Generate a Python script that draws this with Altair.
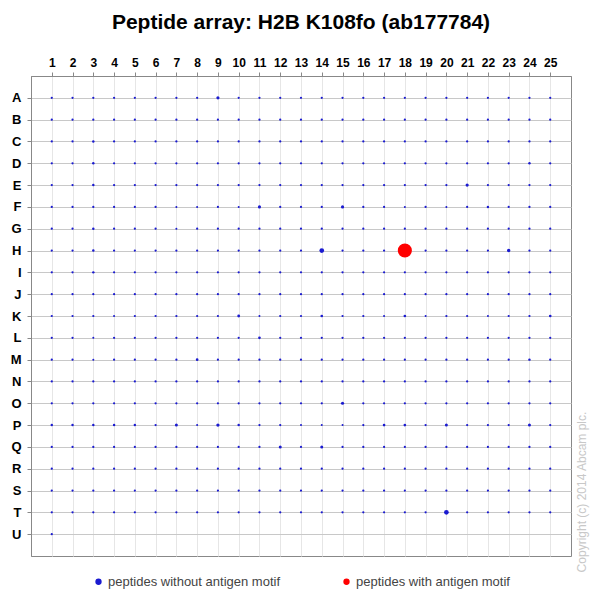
import altair as alt
import pandas as pd

title_text = "Peptide array: H2B K108fo (ab177784)"
copyright_text = "Copyright (c) 2014 Abcam plc."

columns = list(range(1, 26))
rows = list("ABCDEFGHIJKLMNOPQRSTU")

# signal intensity per spot (percent of strongest spot), rows A..T, columns 1..25
signal = {
    "A": [2.5, 2.5, 2.5, 2.5, 2.5, 2.5, 2.5, 2.5, 5, 2.5, 2.5, 2.5, 2.5, 2.5, 2.5, 2.5, 2.5, 2.5, 2.5, 2.5, 2.5, 2.5, 2.5, 2.5, 2.5],
    "B": [2.5, 2.5, 2.5, 2.5, 2.5, 2.5, 2.5, 2.5, 2.5, 2.5, 2.5, 2.5, 2.5, 2.5, 2.5, 2.5, 2.5, 2.5, 2.5, 2.5, 2.5, 2.5, 2.5, 2.5, 2.5],
    "C": [2.5, 2.5, 3, 2.5, 2.5, 2.5, 2.5, 2.5, 2.5, 2.5, 2.5, 2.5, 2.5, 2.5, 2.5, 2.5, 2.5, 2.5, 2.5, 2.5, 2.5, 2.5, 2.5, 2.5, 2.5],
    "D": [2.5, 2.5, 3, 2.5, 2.5, 2.5, 2.5, 2.5, 2.5, 2.5, 2.5, 2.5, 2.5, 2.5, 2.5, 2.5, 2.5, 2.5, 2.5, 2.5, 2.5, 2.5, 2.5, 3, 2.5],
    "E": [2.5, 2.5, 3, 2.5, 2.5, 2.5, 2.5, 2.5, 2.5, 2.5, 2.5, 2.5, 2.5, 2.5, 2.5, 2.5, 2.5, 2.5, 2.5, 2.5, 5, 2.5, 2.5, 2.5, 2.5],
    "F": [2.5, 2.5, 2.5, 2.5, 2.5, 2.5, 2, 2, 2.5, 2, 5, 2.5, 2.5, 2.5, 5, 2.5, 2.5, 2, 2.5, 2, 2.5, 3, 2.5, 2.5, 2.5],
    "G": [2.5, 2.5, 3, 2.5, 2.5, 2.5, 2, 2.5, 2.5, 2.5, 2.5, 2.5, 2.5, 2.5, 2.5, 2.5, 2.5, 2.5, 2.5, 2.5, 2.5, 2.5, 2.5, 2.5, 2.5],
    "H": [2.5, 2.5, 3, 2.5, 2.5, 2.5, 2.5, 2.5, 2.5, 2.5, 2.5, 2.5, 2.5, 11, 2.5, 2.5, 2.5, 100, 2.5, 2.5, 2.5, 2.5, 6, 2.5, 2.5],
    "I": [2.5, 2.5, 3, 2.5, 2.5, 2.5, 2.5, 2.5, 2.5, 2.5, 2.5, 2.5, 2.5, 2.5, 2.5, 2.5, 2.5, 2.5, 2.5, 2.5, 2.5, 2.5, 2.5, 2.5, 2.5],
    "J": [2.5, 2.5, 2.5, 2.5, 2.5, 2.5, 2.5, 2.5, 2.5, 2.5, 2.5, 2.5, 2.5, 2.5, 2.5, 2.5, 2.5, 2.5, 2.5, 2.5, 2.5, 2.5, 2.5, 2.5, 2.5],
    "K": [2.5, 2.5, 2.5, 2, 2.5, 2.5, 2.5, 2.5, 2.5, 4, 2, 2.5, 2.5, 3.5, 2.5, 2.5, 2, 3.5, 2, 2.5, 2.5, 2, 2.5, 2.5, 3.5],
    "L": [2.5, 2.5, 2, 2.5, 2.5, 2.5, 2.5, 2.5, 2.5, 2.5, 3.5, 2.5, 2.5, 2.5, 2.5, 2.5, 2.5, 2.5, 2.5, 2.5, 2.5, 2.5, 2.5, 2.5, 2.5],
    "M": [2.5, 2.5, 2, 2.5, 2.5, 2.5, 2.5, 3.5, 2.5, 2.5, 2.5, 2.5, 2.5, 2.5, 2.5, 2.5, 2.5, 2.5, 2.5, 2.5, 2.5, 2.5, 2.5, 3, 2.5],
    "N": [2.5, 2.5, 2.5, 2.5, 2.5, 2.5, 2.5, 2.5, 2.5, 2.5, 2.5, 2.5, 2.5, 2.5, 2.5, 2.5, 2.5, 2.5, 2.5, 2.5, 2.5, 2.5, 2.5, 2.5, 2.5],
    "O": [2.5, 2.5, 2.5, 2.5, 2.5, 2.5, 2.5, 2.5, 2.5, 2.5, 2.5, 2.5, 2.5, 2.5, 5, 2.5, 2.5, 2.5, 2.5, 2.5, 2.5, 2.5, 2.5, 2.5, 2.5],
    "P": [3, 3, 3, 3, 3, 2.5, 4.5, 2, 5.5, 3, 2.5, 2.5, 2, 2, 2, 2.5, 3.5, 3.5, 2.5, 4.5, 2.5, 2.5, 2.5, 4.5, 2.5],
    "Q": [2.5, 2.5, 2.5, 2.5, 2.5, 2.5, 2.5, 2.5, 2.5, 2.5, 2.5, 4.5, 2.5, 4.5, 2.5, 2.5, 2.5, 2.5, 2.5, 2.5, 2.5, 2.5, 2.5, 2.5, 2.5],
    "R": [2.5, 2.5, 2.5, 2.5, 2.5, 2.5, 2.5, 2.5, 2.5, 2.5, 2.5, 2.5, 2.5, 2.5, 2.5, 2.5, 2.5, 2.5, 2.5, 2.5, 2.5, 2.5, 2.5, 2.5, 2.5],
    "S": [2.5, 2.5, 2.5, 2.5, 2.5, 2.5, 2.5, 2.5, 2.5, 2.5, 2.5, 2.5, 2.5, 2.5, 2.5, 2.5, 2.5, 2.5, 2.5, 2.5, 2.5, 2.5, 2.5, 2.5, 2.5],
    "T": [2.5, 2.5, 2.5, 2.5, 2.5, 2.5, 2.5, 2.5, 2.5, 2.5, 2.5, 2.5, 2.5, 2.5, 2.5, 2.5, 2.5, 2.5, 2.5, 11, 2.5, 2.5, 2.5, 2.5, 2.5],
    "U": [2.5],
}

motif_cells = [("H", 18)]
legend_labels = ["peptides without antigen motif", "peptides with antigen motif"]
legend_colors = ["#1a1ad0", "#ff0000"]

records = []
for r in rows:
    for i, v in enumerate(signal[r]):
        c = columns[i]
        records.append({
            "row": r,
            "col": c,
            "signal": v,
            "group": legend_labels[1] if (r, c) in motif_cells else legend_labels[0],
        })
df = pd.DataFrame(records)

FONT = "Liberation Sans"

points = alt.Chart(df).mark_circle(opacity=1, strokeWidth=0).encode(
    x=alt.X("col:O", scale=alt.Scale(type="point", padding=1, domain=columns),
            axis=alt.Axis(orient="top", title=None, labelAngle=0, labelFontWeight="bold",
                          labelFontSize=12, labelColor="#000", labelFont=FONT,
                          tickColor="#888", tickSize=4, domainColor="#888",
                          grid=True, gridColor="#e6e6e6", labelPadding=3)),
    y=alt.Y("row:O", scale=alt.Scale(type="point", padding=1, domain=rows),
            axis=alt.Axis(orient="left", title=None, labelFontWeight="bold",
                          labelFontSize=13, labelColor="#000", labelFont=FONT,
                          tickColor="#888", tickSize=4, domainColor="#888",
                          grid=True, gridColor="#c8c8c8", labelPadding=6)),
    size=alt.Size("signal:Q", scale=alt.Scale(type="linear", domain=[0, 100], range=[0, 200], zero=True),
                  legend=None),
    color=alt.Color("group:N", scale=alt.Scale(domain=legend_labels, range=legend_colors),
                    legend=alt.Legend(title=None, orient="none", direction="horizontal",
                                      legendX=61, legendY=499, symbolType="circle",
                                      symbolSize=40, symbolStrokeWidth=0, labelFontSize=13,
                                      labelColor="#444", labelFont=FONT, columnPadding=60,
                                      labelOffset=3, labelLimit=400)),
)

copyright_layer = alt.Chart(pd.DataFrame({"t": [copyright_text]})).mark_text(
    angle=270, fontSize=12, font=FONT, color="#c8c8c8", align="center", baseline="middle"
).encode(
    text="t:N",
    x=alt.value(551),
    y=alt.value(416),
)

chart = alt.layer(points, copyright_layer).properties(
    width=540,
    height=480,
    title=alt.TitleParams(title_text, fontSize=21, fontWeight="bold", font=FONT,
                          color="#000", anchor="middle", offset=23),
    autosize=alt.AutoSizeParams(type="none"),
    padding={"left": 23, "top": 68, "right": 20, "bottom": 35},
).configure_view(stroke="#888", strokeWidth=1)

chart.save("out.html", embed_options={"renderer": "svg", "actions": False})
